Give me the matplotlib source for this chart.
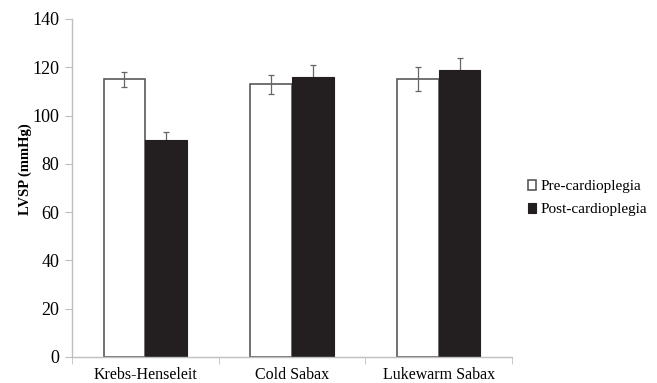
import numpy as np
import matplotlib.pyplot as plt

plt.rcParams['font.family'] = ['Liberation Serif', 'DejaVu Serif']

categories = ['Krebs-Henseleit', 'Cold Sabax', 'Lukewarm Sabax']
pre_values = [115, 113, 115]
pre_err = [3, 4, 5]
post_values = [90, 116, 119]
post_err = [3, 5, 5]

fig = plt.figure(figsize=(6.57, 3.83), dpi=100)
ax = fig.add_axes([0.1096, 0.0679, 0.6697, 0.8825])

x = np.arange(len(categories))
w = 0.285
edge = '#595959'
ax.bar(x - w / 2, pre_values, w, color='white', edgecolor=edge, linewidth=1.2, zorder=2,
       label='Pre-cardioplegia')
ax.bar(x + w / 2, post_values, w, color='#231f20', edgecolor='#231f20', linewidth=0.8, zorder=2,
       label='Post-cardioplegia')
ax.errorbar(x - w / 2, pre_values, yerr=pre_err, fmt='none', ecolor='#666666',
            elinewidth=0.9, capsize=2, capthick=0.9, zorder=3)
ax.errorbar(x + w / 2, post_values, yerr=post_err, fmt='none', ecolor='#666666',
            elinewidth=0.9, capsize=2, capthick=0.9, zorder=1)

ax.set_xlim(-0.5, 2.5)
ax.set_ylim(0, 140)
ax.set_yticks(range(0, 141, 20))
ax.set_xticks(x)
ax.set_xticklabels(categories, fontsize=11.5)
ax.set_xticks([-0.5, 0.5, 1.5, 2.5], minor=True)
ax.tick_params(axis='x', which='major', length=0, pad=7)
ax.tick_params(axis='x', which='minor', length=5, color='#bfbfbf')
ax.tick_params(axis='y', length=5, color='#bfbfbf', labelsize=13, pad=4)
ax.set_ylabel('LVSP (mmHg)', fontsize=10.5, fontweight='bold', labelpad=6)
ax.yaxis.set_label_coords(-0.09, 0.555)

for s in ['top', 'right']:
    ax.spines[s].set_visible(False)
for s in ['left', 'bottom']:
    ax.spines[s].set_color('#bfbfbf')
    ax.spines[s].set_linewidth(1)

fig.legend(loc='center left', bbox_to_anchor=(0.803, 0.482), frameon=False, fontsize=11,
           handlelength=0.55, handleheight=0.55, handletextpad=0.3, labelspacing=0.65,
           borderaxespad=0, borderpad=0)

fig.savefig('out.png', dpi=100)
